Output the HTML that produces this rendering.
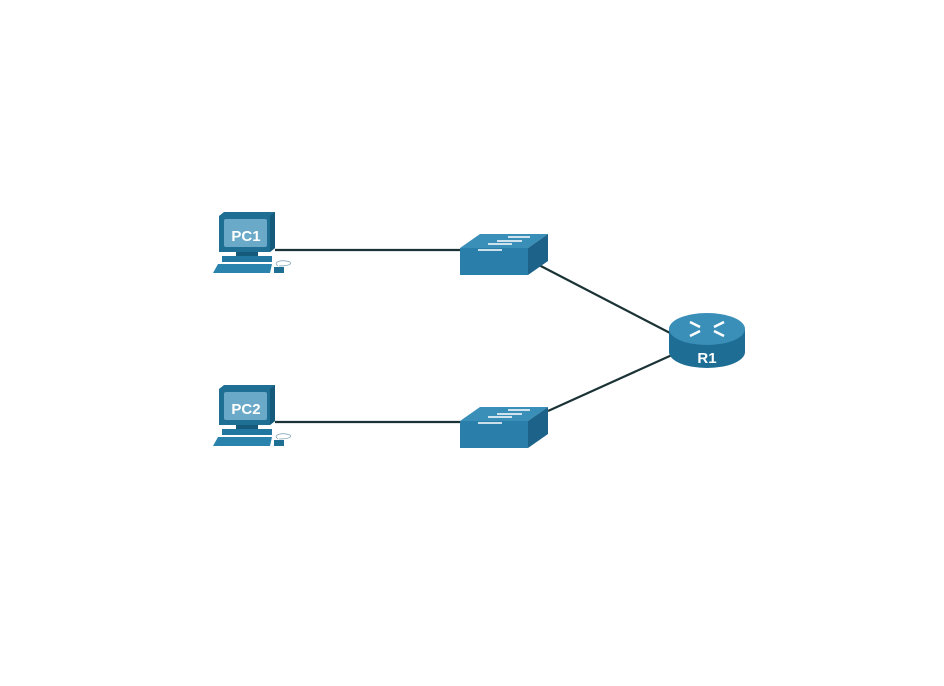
<!DOCTYPE html><html><head><style>body{margin:0;background:#fff}</style></head><body>
<svg width="944" height="681" xmlns="http://www.w3.org/2000/svg" font-family="Liberation Sans, sans-serif">
<defs>
<g id="pc">
<path d="M219 216 L224 212 L275 212 L275 248 L270 252 L219 252 Z" fill="#1f6e93"/>
<path d="M270 216 L275 212 L275 248 L270 252 Z" fill="#155a7a"/>
<rect x="224" y="219" width="43" height="28" rx="2" fill="#6aa9c8"/>
<rect x="236" y="252" width="22" height="4" fill="#155a7a"/>
<path d="M222 256 L272 256 L272 262 L222 262 Z" fill="#2277a0"/>
<path d="M218 264 L272 264 L270 273 L213 273 Z" fill="#2a83ad"/>
<rect x="274" y="267" width="10" height="6" fill="#1f6e93"/>
<path d="M278 266 C272 262 282 259 290 262 C293 265 285 266 279 266" fill="none" stroke="#8ab" stroke-width="0.8"/>
</g>
<g id="sw">
<path d="M460 248 L480 234 L548 234 L528 248 Z" fill="#3a8fb8"/>
<rect x="460" y="248" width="68" height="27" fill="#2a7eaa"/>
<path d="M528 248 L548 234 L548 261 L528 275 Z" fill="#1c6289"/>
<g stroke="#fff" stroke-width="1.6" fill="#fff">
<line x1="508" y1="237" x2="530" y2="237"/><line x1="497" y1="241" x2="522" y2="241"/>
<line x1="488" y1="244" x2="512" y2="244"/><line x1="478" y1="250" x2="502" y2="250"/>
</g>
</g>
</defs>
<g stroke="#1b3336" stroke-width="2.2">
<line x1="275" y1="250" x2="460" y2="250"/>
<line x1="275" y1="422" x2="460" y2="422"/>
<line x1="535" y1="263" x2="672" y2="334"/>
<line x1="548" y1="411" x2="672" y2="355"/>
</g>
<use href="#pc"/>
<text x="246" y="241" font-size="15" font-weight="bold" fill="#fff" text-anchor="middle">PC1</text>
<use href="#pc" transform="translate(0,173)"/>
<text x="246" y="414" font-size="15" font-weight="bold" fill="#fff" text-anchor="middle">PC2</text>
<use href="#sw"/>
<use href="#sw" transform="translate(0,173)"/>
<path d="M669 329 L669 352 A38 16 0 0 0 745 352 L745 329 Z" fill="#1e6d94"/>
<ellipse cx="707" cy="329" rx="38" ry="16" fill="#3a8fb8"/>
<g stroke="#fff" stroke-width="2.5">
<line x1="690" y1="322" x2="700" y2="327"/><line x1="714" y1="331" x2="724" y2="336"/>
<line x1="724" y1="322" x2="714" y2="327"/><line x1="700" y1="331" x2="690" y2="336"/>
</g>
<text x="707" y="363" font-size="15" font-weight="bold" fill="#fff" text-anchor="middle">R1</text>
</svg>
</body></html>
